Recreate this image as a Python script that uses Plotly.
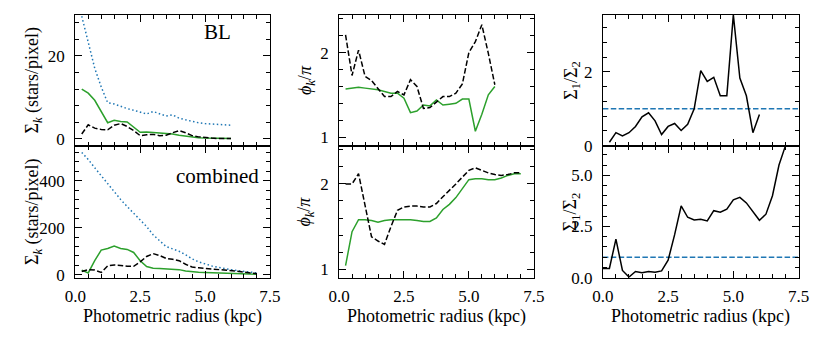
import plotly.graph_objects as go

# ── radii (kpc) ──────────────────────────────────────────────────────────────
R_BL = [0.25, 0.5, 0.75, 1.0, 1.25, 1.5, 1.75, 2.0, 2.25, 2.5, 2.75, 3.0,
        3.25, 3.5, 3.75, 4.0, 4.25, 4.5, 4.75, 5.0, 5.25, 5.5, 5.75, 6.0]
R_CO = [0.25, 0.5, 0.75, 1.0, 1.25, 1.5, 1.75, 2.0, 2.25, 2.5, 2.75, 3.0,
        3.25, 3.5, 3.75, 4.0, 4.25, 4.5, 4.75, 5.0, 5.25, 5.5, 5.75, 6.0,
        6.25, 6.5, 6.75, 7.0]
R_CO_RATIO = [0.0] + R_CO

# ── BL: amplitudes Σ_k ───────────────────────────────────────────────────────
BL_S0 = [29.5, 23.0, 17.0, 12.5, 8.7, 8.4, 7.8, 7.3, 6.9, 6.4, 6.0, 6.6,
         6.1, 5.5, 5.8, 5.0, 4.6, 4.2, 3.9, 3.7, 3.6, 3.5, 3.4, 3.3]
BL_S1 = [12.0, 11.0, 9.3, 6.5, 3.9, 4.5, 4.2, 4.1, 2.9, 1.6, 1.7, 1.6,
         1.5, 1.3, 1.2, 0.9, 0.7, 0.4, 0.3, 0.2, 0.2, 0.1, 0.1, 0.1]
BL_S2 = [1.2, 3.4, 2.6, 2.3, 2.2, 3.3, 3.7, 3.0, 2.0, 0.8, 1.0, 1.1,
         0.8, 0.9, 1.5, 2.0, 1.5, 0.8, 0.5, 0.3, 0.2, 0.1, 0.1, 0.1]

# ── combined: amplitudes Σ_k ─────────────────────────────────────────────────
CO_S0 = [520, 490, 455, 420, 385, 350, 320, 290, 262, 235, 205, 170,
         145, 120, 110, 100, 85, 68, 55, 45, 38, 32, 26, 22, 18, 14, 10, 8]
CO_S1 = [20, 8, 60, 105, 112, 122, 112, 108, 95, 60, 35, 28,
         27, 25, 24, 22, 16, 12, 11, 10, 9, 8, 7, 6, 5, 4, 3, 2]
CO_S2 = [14, 22, 20, 10, 38, 42, 40, 36, 36, 55, 78, 90,
         82, 70, 66, 60, 45, 33, 30, 28, 26, 24, 21, 19, 15, 11, 8, 5]

# ── phases ϕ_k/π ─────────────────────────────────────────────────────────────
BL_P1 = [1.57, 1.58, 1.59, 1.58, 1.57, 1.56, 1.54, 1.52, 1.52, 1.46, 1.29, 1.31,
         1.38, 1.37, 1.44, 1.38, 1.39, 1.40, 1.45, 1.45, 1.07, 1.27, 1.50, 1.60]
BL_P2 = [2.21, 1.73, 2.03, 1.72, 1.67, 1.58, 1.48, 1.48, 1.54, 1.50, 1.68, 1.60,
         1.34, 1.35, 1.42, 1.48, 1.48, 1.52, 1.63, 2.00, 2.13, 2.33, 1.99, 1.62]
CO_P1 = [1.04, 1.44, 1.58, 1.58, 1.57, 1.55, 1.57, 1.58, 1.58, 1.58, 1.58, 1.57,
         1.56, 1.56, 1.60, 1.70, 1.76, 1.84, 1.94, 2.05, 2.06, 2.06, 2.05, 2.05,
         2.07, 2.10, 2.12, 2.12]
CO_P2 = [2.00, 2.00, 2.12, 1.75, 1.38, 1.33, 1.29, 1.50, 1.69, 1.73, 1.74, 1.74,
         1.73, 1.73, 1.77, 1.85, 1.92, 2.00, 2.08, 2.16, 2.19, 2.16, 2.13, 2.11,
         2.10, 2.11, 2.13, 2.13]

# ── ratio Σ1/Σ2 ──────────────────────────────────────────────────────────────
BL_RATIO = [0.09, 0.35, 0.26, 0.35, 0.52, 0.78, 0.89, 0.67, 0.30, 0.52, 0.60, 0.41,
            0.58, 1.00, 2.03, 1.74, 1.85, 1.35, 1.35, 3.54, 1.83, 1.35, 0.35, 0.84]
CO_RATIO = [0.45, 0.45, 1.88, 0.35, 0.03, 0.30, 0.24, 0.30, 0.26, 0.33, 0.85, 2.10,
            3.50, 2.95, 2.82, 2.85, 2.77, 3.27, 3.20, 3.35, 3.80, 3.92, 3.65, 3.20,
            2.80, 3.10, 4.00, 5.50, 6.45]
RATIO_REF = 1.0

# ── style ────────────────────────────────────────────────────────────────────
FONT  = "Liberation Serif, Times New Roman, serif"
BLUE  = "#1f77b4"
GREEN = "#2ca02c"
BLACK = "#000000"
W, H  = 830, 342

def fx(px):
    return px / W

def fy(py):
    return 1 - py / H

COLS = [(66, 266), (337, 537), (608, 809)]
ROWS = [(15, 150), (150, 286)]

fig = go.Figure()

def add_line(ax, x, y, color, dash):
    fig.add_trace(go.Scatter(
        x=x, y=y, mode="lines", xaxis="x" + ax, yaxis="y" + ax,
        line=dict(color=color, width=1.5, dash=dash), showlegend=False,
        hoverinfo="skip",
    ))

DOT  = "1.5px,2.5px"
DASH = "5.5px,2.4px"

# top row: BL
add_line("", R_BL, BL_S0, BLUE, DOT)
add_line("", R_BL, BL_S1, GREEN, "solid")
add_line("", R_BL, BL_S2, BLACK, DASH)
add_line("2", R_BL, BL_P1, GREEN, "solid")
add_line("2", R_BL, BL_P2, BLACK, DASH)
add_line("3", [0, 7.5], [RATIO_REF, RATIO_REF], BLUE, DASH)
add_line("3", R_BL, BL_RATIO, BLACK, "solid")
# bottom row: combined
add_line("4", R_CO, CO_S0, BLUE, DOT)
add_line("4", R_CO, CO_S1, GREEN, "solid")
add_line("4", R_CO, CO_S2, BLACK, DASH)
add_line("5", R_CO, CO_P1, GREEN, "solid")
add_line("5", R_CO, CO_P2, BLACK, DASH)
add_line("6", [0, 7.5], [RATIO_REF, RATIO_REF], BLUE, DASH)
add_line("6", R_CO_RATIO, CO_RATIO, BLACK, "solid")

Y_SPECS = {
    1: dict(range=[-1.6, 29.9], dtick=20, minor=4, fmt=None),
    2: dict(range=[0.9, 2.45], dtick=1, minor=0.2, fmt=None),
    3: dict(range=[0, 3.55], dtick=2, minor=0.4, fmt=None),
    4: dict(range=[-12, 549], dtick=200, minor=40, fmt=None),
    5: dict(range=[0.9, 2.45], dtick=1, minor=0.2, fmt=None),
    6: dict(range=[0, 6.45], dtick=2.5, minor=0.5, fmt=".1f"),
}

tick_font = dict(family=FONT, size=17, color="black")
layout = {}
for i in range(1, 7):
    r, c = (i - 1) // 3, (i - 1) % 3
    x0, x1 = COLS[c]
    y0, y1 = ROWS[r]
    sfx = "" if i == 1 else str(i)
    spec = Y_SPECS[i]
    layout["xaxis" + sfx] = dict(
        domain=[fx(x0), fx(x1)], anchor="y" + sfx, range=[0, 7.5],
        tick0=0, dtick=2.5, tickformat=".1f", ticks="inside", ticklen=7,
        tickwidth=1, tickcolor="black", showline=True, linecolor="black",
        linewidth=1, mirror="allticks", showgrid=False, zeroline=False,
        showticklabels=(r == 1), tickfont=tick_font, ticklabelstandoff=3,
        minor=dict(dtick=0.5, tick0=0, ticks="inside", ticklen=4,
                   tickcolor="black", tickwidth=1, showgrid=False),
    )
    ya = dict(
        domain=[fy(y1), fy(y0)], anchor="x" + sfx, range=spec["range"],
        tick0=0, dtick=spec["dtick"], ticks="inside", ticklen=7,
        tickwidth=1, tickcolor="black", showline=True, linecolor="black",
        linewidth=1, mirror="allticks", showgrid=False, zeroline=False,
        tickfont=tick_font, ticklabelstandoff=6,
        minor=dict(dtick=spec["minor"], tick0=0, ticks="inside", ticklen=4,
                   tickcolor="black", tickwidth=1, showgrid=False),
    )
    if spec["fmt"]:
        ya["tickformat"] = spec["fmt"]
    layout["yaxis" + sfx] = ya

fig.update_layout(
    width=W, height=H, margin=dict(l=0, r=0, t=0, b=0),
    paper_bgcolor="white", plot_bgcolor="white",
    font=dict(family=FONT, color="black", size=17),
    **layout,
)

# axis titles
YT = ["Σ<sub><i>k</i></sub> (stars/pixel)", "<i>ϕ<sub>k</sub></i>/<i>π</i>",
      "Σ<sub>1</sub>/Σ<sub>2</sub>"]
YT_X = [23, 303, 576]
for c in range(3):
    for r in range(2):
        y0, y1 = ROWS[r]
        fig.add_annotation(
            text=YT[c], x=fx(YT_X[c]), y=fy((y0 + y1) / 2), xref="paper",
            yref="paper", textangle=-90, showarrow=False,
            font=dict(family=FONT, size=18, color="black"),
            xanchor="center", yanchor="middle",
        )
    x0, x1 = COLS[c]
    fig.add_annotation(
        text="Photometric radius (kpc)", x=fx((x0 + x1) / 2), y=fy(326),
        xref="paper", yref="paper", showarrow=False,
        font=dict(family=FONT, size=18, color="black"),
        xanchor="center", yanchor="middle",
    )

fig.add_annotation(text="BL", x=fx(212), y=fy(33), xref="paper", yref="paper",
                   showarrow=False, font=dict(family=FONT, size=21, color="black"),
                   xanchor="center", yanchor="middle")
fig.add_annotation(text="combined", x=fx(212), y=fy(181), xref="paper", yref="paper",
                   showarrow=False, font=dict(family=FONT, size=21, color="black"),
                   xanchor="center", yanchor="middle")

# page body has an 8px default margin; drop it so the figure sits at (0, 0)
fig.write_html("out.html", config={"displayModeBar": False},
               post_script="document.body.style.margin = '0';")
